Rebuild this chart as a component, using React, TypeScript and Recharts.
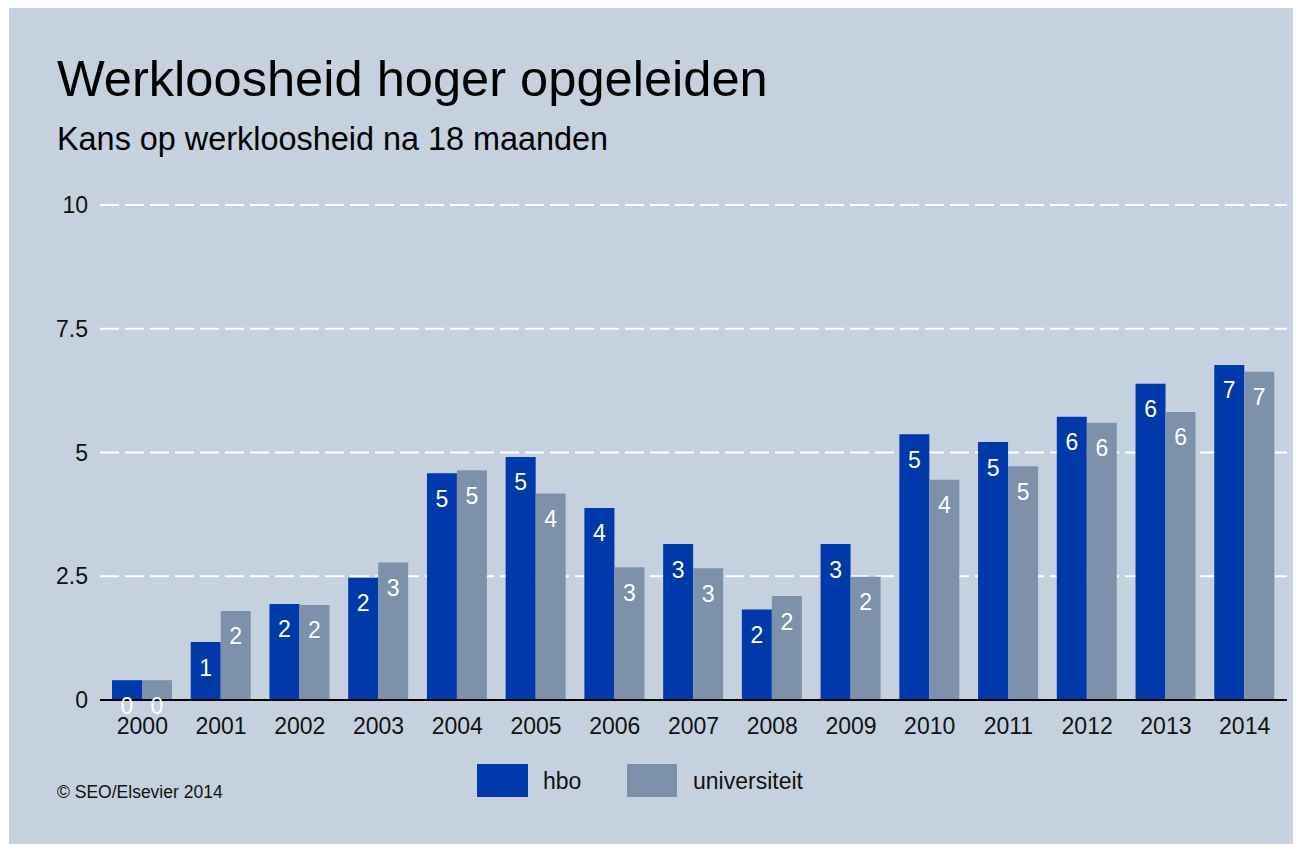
import { BarChart, Bar, XAxis, YAxis, CartesianGrid, LabelList } from "recharts";

const years = ["2000", "2001", "2002", "2003", "2004", "2005", "2006", "2007", "2008", "2009", "2010", "2011", "2012", "2013", "2014"];
const hbo = [0.4, 1.17, 1.94, 2.47, 4.58, 4.91, 3.88, 3.15, 1.83, 3.15, 5.37, 5.21, 5.72, 6.39, 6.77];
const universiteit = [0.4, 1.8, 1.92, 2.78, 4.64, 4.17, 2.68, 2.66, 2.1, 2.49, 4.45, 4.72, 5.6, 5.82, 6.63];
const yTicks = [0, 2.5, 5, 7.5, 10];

const series = [
  { key: "hbo", name: "hbo", color: "#0039aa" },
  { key: "universiteit", name: "universiteit", color: "#7d92aa" },
];

const data = years.map((year, i) => ({ year, hbo: hbo[i], universiteit: universiteit[i] }));

const FONT = '"Liberation Sans", Arial, sans-serif';
const BG = "#c5d1de";

function ValueLabel(props: any) {
  const { x, y, width, value } = props;
  return (
    <text x={Number(x) + Number(width) / 2} y={Number(y) + 33.5} textAnchor="middle" fill="#fff" fontSize={23} fontFamily={FONT}>
      {Math.round(Number(value))}
    </text>
  );
}

export default function App() {
  return (
    <div style={{ position: "relative", width: 1292, height: 836, marginLeft: 1, background: BG, fontFamily: FONT }}>
      <style>{`body{overflow:hidden}`}</style>
      <div style={{ position: "absolute", left: 48, top: 46, fontSize: 50.6, lineHeight: "50px", color: "#000", whiteSpace: "nowrap" }}>
        Werkloosheid hoger opgeleiden
      </div>
      <div style={{ position: "absolute", left: 48, top: 115, fontSize: 32.4, lineHeight: "32px", color: "#000", whiteSpace: "nowrap" }}>
        Kans op werkloosheid na 18 maanden
      </div>

      <div style={{ position: "absolute", left: 0, top: 0 }}>
        <BarChart width={1292} height={836} data={data} margin={{ top: 197, right: 14, bottom: 104, left: 31 }} barGap={0}>
          <CartesianGrid vertical={false} stroke="#fff" strokeWidth={2} strokeDasharray="19 6" />
          <YAxis
            width={60}
            domain={[0, 10]}
            ticks={yTicks}
            axisLine={false}
            tickLine={false}
            tickSize={0}
            tickMargin={12}
            tick={{ fontSize: 23, fill: "#111", fontFamily: FONT }}
          />
          {series.map((s) => (
            <Bar key={s.key} dataKey={s.key} name={s.name} fill={s.color} barSize={30} isAnimationActive={false}>
              <LabelList dataKey={s.key} content={ValueLabel} />
            </Bar>
          ))}
          <XAxis
            dataKey="year"
            height={40}
            padding={{ left: 3, right: 3 }}
            axisLine={{ stroke: "#000", strokeWidth: 2 }}
            tickLine={false}
            tickSize={0}
            tickMargin={18}
            interval={0}
            tick={{ fontSize: 23, fill: "#111", fontFamily: FONT }}
          />
        </BarChart>
      </div>

      {/* legend */}
      <div style={{ position: "absolute", left: 468, top: 756, width: 51, height: 33, background: series[0].color }} />
      <div style={{ position: "absolute", left: 534, top: 762, fontSize: 23, lineHeight: "23px", color: "#111" }}>{series[0].name}</div>
      <div style={{ position: "absolute", left: 618, top: 756, width: 50, height: 33, background: series[1].color }} />
      <div style={{ position: "absolute", left: 684, top: 762, fontSize: 23, lineHeight: "23px", color: "#111" }}>{series[1].name}</div>

      <div style={{ position: "absolute", left: 48, top: 776, fontSize: 17.5, lineHeight: "17.5px", color: "#111", whiteSpace: "nowrap" }}>
        © SEO/Elsevier 2014
      </div>
    </div>
  );
}
